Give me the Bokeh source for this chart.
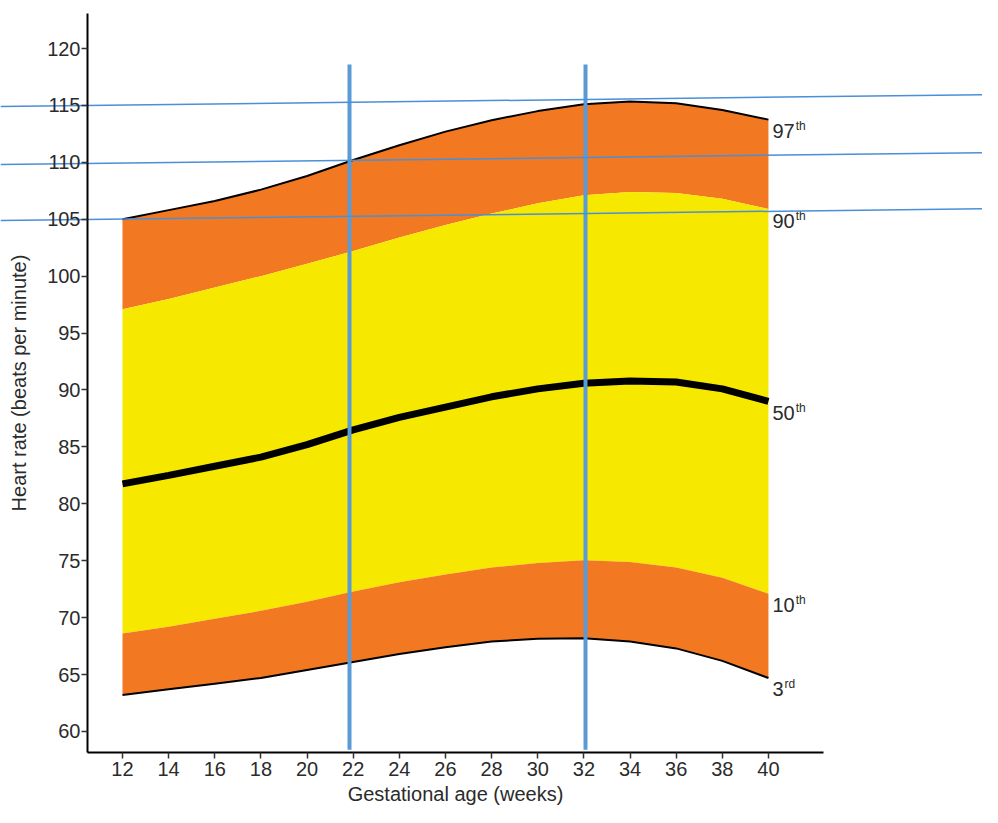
from bokeh.plotting import figure
from bokeh.models import Range1d, FixedTicker, LinearAxis
from bokeh.core.properties import value
from bokeh.embed import file_html
from bokeh.resources import INLINE

# ---- data ----
weeks = [12, 14, 16, 18, 20, 22, 24, 26, 28, 30, 32, 34, 36, 38, 40]
p97 = [105.0, 105.8, 106.6, 107.6, 108.8, 110.2, 111.5, 112.7, 113.7, 114.5, 115.1, 115.35, 115.2, 114.6, 113.75]
p90 = [97.1, 98.0, 99.0, 100.0, 101.1, 102.2, 103.4, 104.5, 105.5, 106.4, 107.1, 107.4, 107.3, 106.8, 105.9]
p50 = [81.75, 82.5, 83.3, 84.1, 85.2, 86.5, 87.6, 88.5, 89.4, 90.1, 90.6, 90.8, 90.7, 90.1, 89.0]
p10 = [68.6, 69.2, 69.9, 70.6, 71.4, 72.3, 73.1, 73.8, 74.4, 74.8, 75.05, 74.9, 74.4, 73.5, 72.1]
p3 = [63.2, 63.7, 64.2, 64.7, 65.4, 66.1, 66.8, 67.4, 67.9, 68.15, 68.2, 67.9, 67.3, 66.2, 64.7]

pct_numbers = ["97", "90", "50", "10", "3"]
pct_suffix = ["th", "th", "th", "th", "rd"]

x_ticks = list(range(12, 41, 2))
y_ticks = list(range(60, 121, 5))

# axis extents (data units)
x_axis_span = (10.483, 42.386)
y_axis_span = (58.15, 123.07)

# marker lines drawn on the reference
vline_x = [21.84, 32.07]
vline_top = [118.59, 118.59]
vline_bottom = [58.4, 58.4]
slant_x0 = [6.712, 6.712, 6.712]
slant_x1 = [49.97, 49.97, 49.97]
slant_y0 = [114.905, 109.81, 104.89]
slant_y1 = [115.96, 110.86, 105.94]

ORANGE = "#F37822"
YELLOW = "#F7E800"
BLUE = "#5B9BD5"
SLANT = "#4A8FD8"
TEXT = "#2b2b2b"
FONT = "Liberation Sans"

W, H = 982, 807
PX_PER_WEEK = 23.07
PX_PER_BPM = 11.383
XL = 6.712
YT = 124.217

# the frame covers the whole canvas so the thin blue lines can run edge to edge;
# the axes are pinned at fixed data locations
p = figure(width=W, height=H, output_backend="svg", toolbar_location=None,
           x_range=Range1d(XL, XL + W / PX_PER_WEEK),
           y_range=Range1d(YT - H / PX_PER_BPM, YT),
           x_axis_location=None, y_axis_location=None,
           min_border=0, min_border_left=0, min_border_right=0,
           min_border_top=0, min_border_bottom=0)
p.outline_line_color = None
p.grid.visible = False
p.background_fill_color = "white"
p.border_fill_color = "white"

# bands
p.varea(x=weeks, y1=p90, y2=p97, fill_color=ORANGE)
p.varea(x=weeks, y1=p10, y2=p90, fill_color=YELLOW)
p.varea(x=weeks, y1=p3, y2=p10, fill_color=ORANGE)

p.line(weeks, p97, line_color="black", line_width=2)
p.line(weeks, p3, line_color="black", line_width=2)
p.line(weeks, p50, line_color="black", line_width=7)

# percentile labels
ends = [p97[-1], p90[-1], p50[-1], p10[-1], p3[-1]]
lx = [weeks[-1]] * len(ends)
p.text(x=lx, y=ends, text=pct_numbers, x_offset=4, y_offset=11.5,
       text_font=value(FONT), text_font_size="20px", text_color=TEXT,
       text_baseline="middle", text_align="left")
sup_off = [4 + 11.1 * len(n) + 1 for n in pct_numbers]
p.text(x=lx, y=ends, text=pct_suffix, x_offset=sup_off, y_offset=6.5,
       text_font=value(FONT), text_font_size="12px", text_color=TEXT,
       text_baseline="middle", text_align="left")

# vertical blue markers
p.segment(x0=vline_x, y0=vline_bottom, x1=vline_x, y1=vline_top,
          line_color=BLUE, line_width=4)

# thin slanted blue lines across the page
p.segment(x0=slant_x0, y0=slant_y0, x1=slant_x1, y1=slant_y1,
          line_color=SLANT, line_width=1.5)

# axes
xax = LinearAxis(fixed_location=y_axis_span[0], bounds=x_axis_span,
                 ticker=FixedTicker(ticks=x_ticks), axis_label="Gestational age (weeks)")
yax = LinearAxis(fixed_location=x_axis_span[0], bounds=y_axis_span,
                 ticker=FixedTicker(ticks=y_ticks), axis_label="Heart rate (beats per minute)")
for ax in (xax, yax):
    ax.axis_line_color = "black"
    ax.axis_line_width = 2
    ax.major_tick_line_color = "#333333"
    ax.major_tick_line_width = 1.5
    ax.major_tick_in = 0
    ax.major_tick_out = 6
    ax.minor_tick_line_color = None
    ax.major_label_text_font = FONT
    ax.major_label_text_font_size = "20px"
    ax.major_label_text_color = TEXT
    ax.axis_label_text_font = FONT
    ax.axis_label_text_font_size = "20px"
    ax.axis_label_text_font_style = "normal"
    ax.axis_label_text_color = TEXT
xax.major_label_standoff = 3
xax.axis_label_standoff = 4
yax.major_label_standoff = 1
yax.axis_label_standoff = 14
p.add_layout(xax, "below")
p.add_layout(yax, "left")

open("out.html", "w").write(file_html(p, INLINE))
